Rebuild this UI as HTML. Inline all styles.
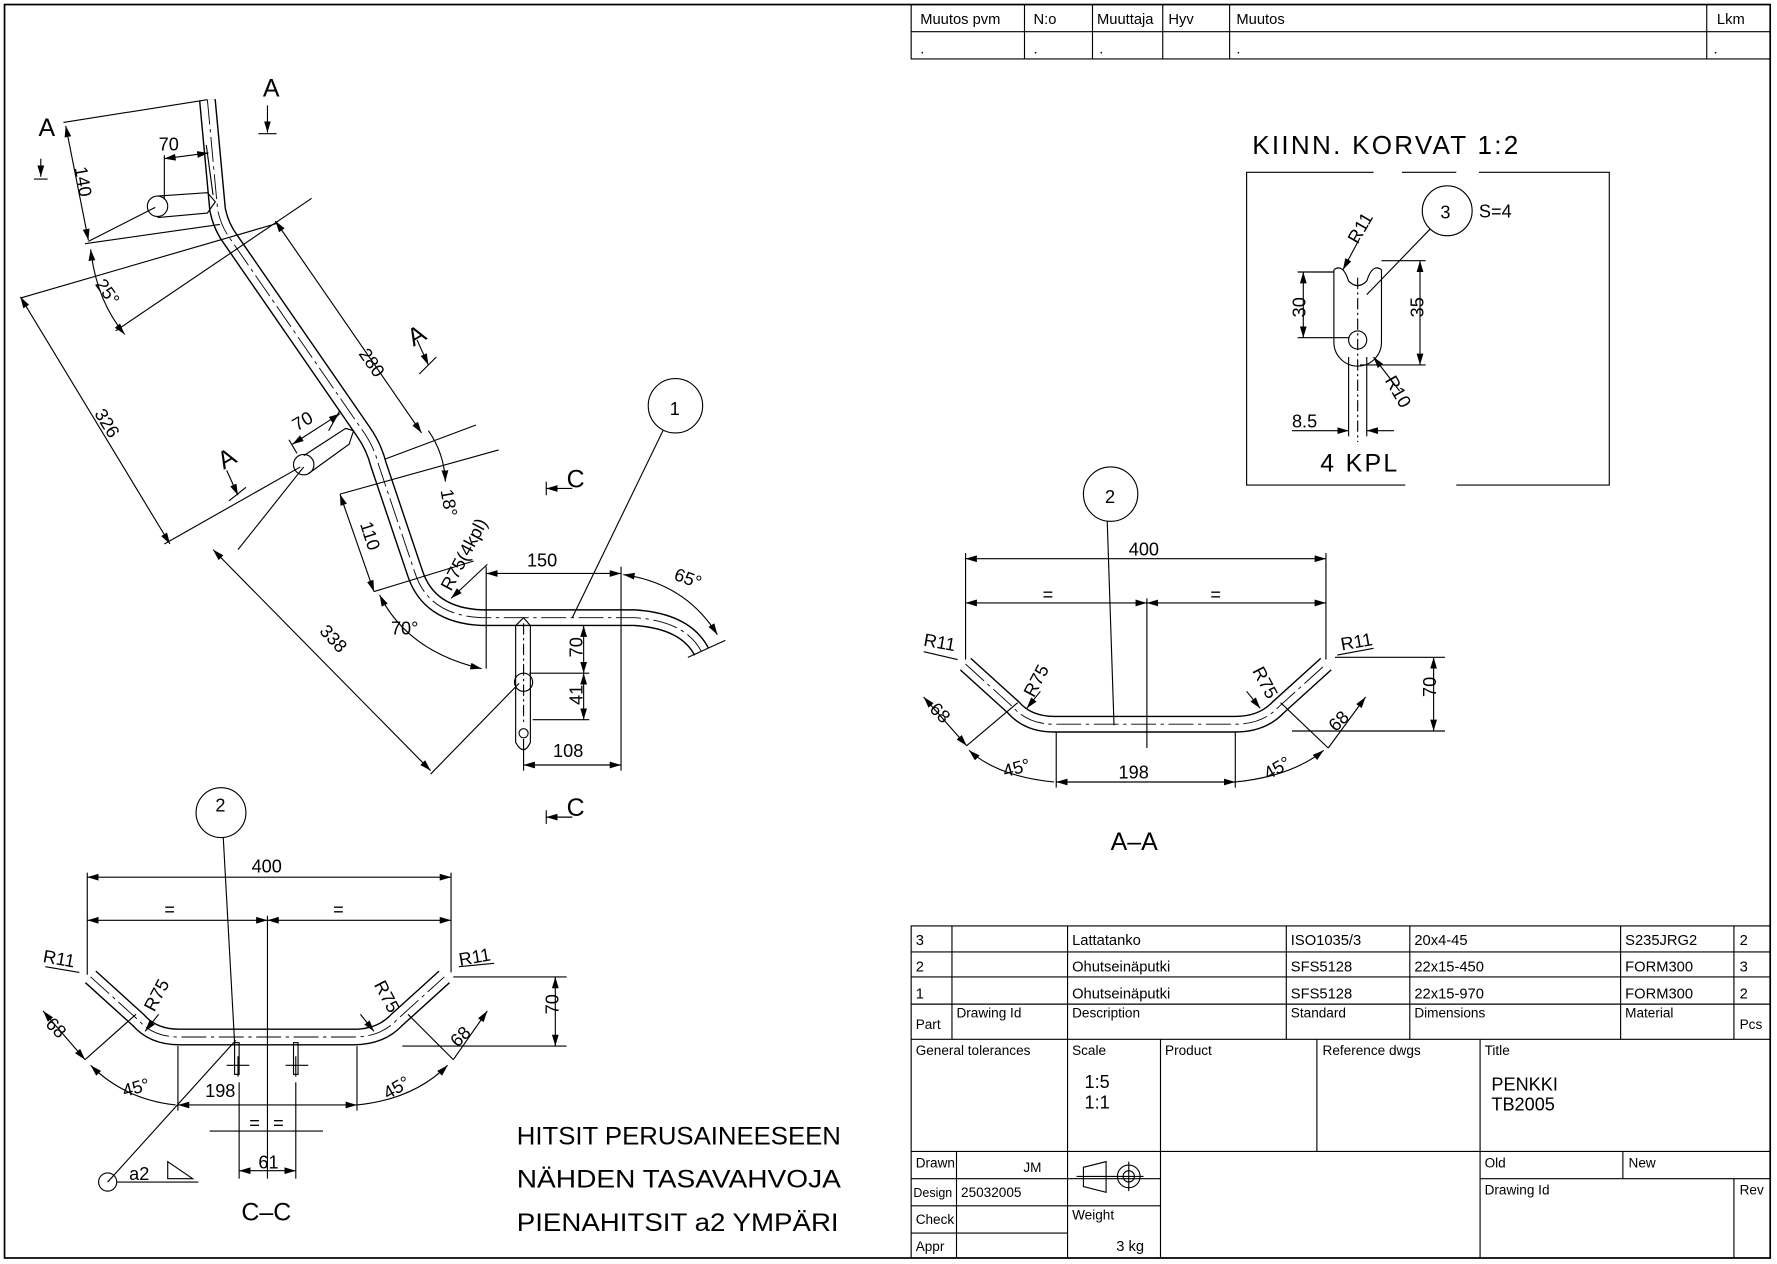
<!DOCTYPE html>
<html><head><meta charset="utf-8"><style>
html,body{margin:0;padding:0;background:#fff}
svg{display:block}
text{font-family:"Liberation Sans Narrow","Liberation Sans",sans-serif;fill:#000}
.t{font-size:13px}
.d{font-size:16px}
.b{font-size:22px}
</style></head><body>
<svg width="1777" height="1264" viewBox="0 0 1568 1115.3" preserveAspectRatio="none" xmlns="http://www.w3.org/2000/svg">
<defs>
<marker id="a" viewBox="0 0 10 6" refX="10" refY="3" markerWidth="10" markerHeight="6" orient="auto-start-reverse" markerUnits="userSpaceOnUse"><path d="M0,0L10,3L0,6z" fill="#000"/></marker>
</defs>
<rect x="4" y="4" width="1558" height="1106" fill="none" stroke="#000" stroke-width="1.5"/>

<!-- revision table -->
<g fill="none" stroke="#000" stroke-width="1">
<rect x="804" y="4" width="758" height="48"/>
<line x1="804" y1="28" x2="1562" y2="28"/>
<line x1="904" y1="4" x2="904" y2="52"/><line x1="964" y1="4" x2="964" y2="52"/><line x1="1026" y1="4" x2="1026" y2="52"/><line x1="1085" y1="4" x2="1085" y2="52"/><line x1="1506" y1="4" x2="1506" y2="52"/>
</g>
<g class="t"><text x="812" y="21">Muutos  pvm</text><text x="912" y="21">N:o</text><text x="968" y="21">Muuttaja</text><text x="1031" y="21">Hyv</text><text x="1091" y="21">Muutos</text><text x="1515" y="21">Lkm</text>
<text x="812" y="47">.</text><text x="912" y="47">.</text><text x="970" y="47">.</text><text x="1091" y="47">.</text><text x="1512" y="47">.</text></g>

<!-- title block -->
<g fill="none" stroke="#000" stroke-width="1">
<rect x="804" y="817" width="758" height="293"/>
<line x1="804" y1="840" x2="1562" y2="840"/><line x1="804" y1="862" x2="1562" y2="862"/><line x1="804" y1="886" x2="1562" y2="886"/><line x1="804" y1="917" x2="1562" y2="917"/>
<line x1="840" y1="817" x2="840" y2="917"/><line x1="942" y1="817" x2="942" y2="1110"/><line x1="1135" y1="817" x2="1135" y2="917"/><line x1="1244" y1="817" x2="1244" y2="917"/><line x1="1430" y1="817" x2="1430" y2="917"/><line x1="1530" y1="817" x2="1530" y2="917"/>
<line x1="1024" y1="917" x2="1024" y2="1110"/><line x1="1162" y1="917" x2="1162" y2="1016"/><line x1="1306" y1="917" x2="1306" y2="1110"/>
<line x1="804" y1="1016" x2="1562" y2="1016"/><line x1="804" y1="1040" x2="1024" y2="1040"/><line x1="1306" y1="1040" x2="1562" y2="1040"/>
<line x1="804" y1="1064" x2="1024" y2="1064"/><line x1="804" y1="1088" x2="942" y2="1088"/>
<line x1="844" y1="1016" x2="844" y2="1110"/><line x1="1432" y1="1016" x2="1432" y2="1040"/><line x1="1530" y1="1040" x2="1530" y2="1110"/>
</g>
<g class="t">
<text x="808" y="834">3</text><text x="946" y="834">Lattatanko</text><text x="1139" y="834">ISO1035/3</text><text x="1248" y="834">20x4-45</text><text x="1434" y="834">S235JRG2</text><text x="1535" y="834">2</text>
<text x="808" y="857">2</text><text x="946" y="857">Ohutseinäputki</text><text x="1139" y="857">SFS5128</text><text x="1248" y="857">22x15-450</text><text x="1434" y="857">FORM300</text><text x="1535" y="857">3</text>
<text x="808" y="881">1</text><text x="946" y="881">Ohutseinäputki</text><text x="1139" y="881">SFS5128</text><text x="1248" y="881">22x15-970</text><text x="1434" y="881">FORM300</text><text x="1535" y="881">2</text>
<text x="808" y="908" font-size="12">Part</text><text x="844" y="898" font-size="12">Drawing Id</text><text x="946" y="898" font-size="12">Description</text><text x="1139" y="898" font-size="12">Standard</text><text x="1248" y="898" font-size="12">Dimensions</text><text x="1434" y="898" font-size="12">Material</text><text x="1535" y="908" font-size="12">Pcs</text>
<text x="808" y="931" font-size="12">General tolerances</text><text x="946" y="931" font-size="12">Scale</text><text x="1028" y="931" font-size="12">Product</text><text x="1167" y="931" font-size="12">Reference dwgs</text><text x="1310" y="931" font-size="12">Title</text>
<text x="957" y="960" font-size="16">1:5</text><text x="957" y="978" font-size="16">1:1</text>
<text x="1316" y="962" font-size="16">PENKKI</text><text x="1316" y="980" font-size="16">TB2005</text>
<text x="808" y="1030" font-size="12">Drawn</text><text x="903" y="1034" font-size="12">JM</text><text x="1310" y="1030" font-size="12">Old</text><text x="1437" y="1030" font-size="12">New</text>
<text x="806" y="1056" font-size="11">Design</text><text x="848" y="1056" font-size="12">25032005</text><text x="1310" y="1054" font-size="12">Drawing Id</text><text x="1535" y="1054" font-size="12">Rev</text>
<text x="808" y="1080" font-size="12">Check</text><text x="946" y="1076" font-size="12">Weight</text>
<text x="808" y="1104" font-size="12">Appr</text><text x="985" y="1104" font-size="13">3  kg</text>
</g>
<g fill="none" stroke="#000" stroke-width="1">
<path d="M956,1030 L976,1025 L976,1052 L956,1047 Z M950,1038 L983,1038"/>
<circle cx="996" cy="1038" r="10"/><circle cx="996" cy="1038" r="5"/><line x1="983" y1="1038" x2="1009" y2="1038"/><line x1="996" y1="1025" x2="996" y2="1051"/>
</g>

<!-- tubes -->
<g fill="none" stroke-linejoin="round" stroke-linecap="butt">
<path d="M183,88 L192,185 Q195,200 204,212 L320,380 Q330,394 334,410 L366,505 Q378,543 425,545 L560,545 Q605,548 619,575" stroke="#000" stroke-width="15"/>
<path d="M183,88 L192,185 Q195,200 204,212 L320,380 Q330,394 334,410 L366,505 Q378,543 425,545 L560,545 Q605,548 619,575" stroke="#fff" stroke-width="12.5"/>
<path d="M183,88 L192,185 Q195,200 204,212 L320,380 Q330,394 334,410 L366,505 Q378,543 425,545 L560,545 Q605,548 619,575" stroke="#000" stroke-width="0.8" stroke-dasharray="22,4,3,4"/>
<path d="M80,862 L122,900 Q135,915 158,915 L312,915 Q336,915 350,900 L392,862" stroke="#000" stroke-width="15"/>
<path d="M80,862 L122,900 Q135,915 158,915 L312,915 Q336,915 350,900 L392,862" stroke="#fff" stroke-width="12.5"/>
<path d="M80,862 L122,900 Q135,915 158,915 L312,915 Q336,915 350,900 L392,862" stroke="#000" stroke-width="0.8" stroke-dasharray="22,4,3,4"/>
<path d="M852,586 L894,624 Q907,639 930,639 L1090,639 Q1114,639 1128,624 L1170,586" stroke="#000" stroke-width="15"/>
<path d="M852,586 L894,624 Q907,639 930,639 L1090,639 Q1114,639 1128,624 L1170,586" stroke="#fff" stroke-width="12.5"/>
<path d="M852,586 L894,624 Q907,639 930,639 L1090,639 Q1114,639 1128,624 L1170,586" stroke="#000" stroke-width="0.8" stroke-dasharray="22,4,3,4"/>
</g>

<!-- top-left view details -->
<g fill="none" stroke="#000" stroke-width="1">
<line x1="56" y1="108" x2="183" y2="88"/>
<line x1="75" y1="215" x2="194" y2="198"/>
<path d="M139,173 L183,170 L190,178 L183,188 L139,192"/><circle cx="139" cy="182" r="9"/>
<line x1="145" y1="137" x2="145" y2="176"/><line x1="182" y1="128" x2="188" y2="172"/>
<line x1="145" y1="140" x2="184" y2="135" marker-start="url(#a)" marker-end="url(#a)"/>
<path d="M268,402 L305,378 L312,380 L308,392 L272,418"/><circle cx="268" cy="410" r="9"/>
<line x1="290" y1="380" x2="300" y2="362"/><line x1="262" y1="400" x2="255" y2="388"/>
<line x1="258" y1="392" x2="300" y2="365" marker-start="url(#a)" marker-end="url(#a)"/>
<line x1="58" y1="111" x2="78" y2="212" marker-start="url(#a)" marker-end="url(#a)"/>
<line x1="18" y1="263" x2="245" y2="197"/>
<line x1="18" y1="262" x2="150" y2="480" marker-start="url(#a)" marker-end="url(#a)"/>
<line x1="145" y1="480" x2="265" y2="412"/>
<line x1="102" y1="292" x2="275" y2="175"/>
<path d="M80,220 Q85,265 110,295" marker-start="url(#a)" marker-end="url(#a)"/>
<line x1="78" y1="213" x2="137" y2="183"/>
<line x1="243" y1="195" x2="372" y2="382" marker-start="url(#a)" marker-end="url(#a)"/>
<line x1="340" y1="405" x2="420" y2="375"/>
<line x1="300" y1="436" x2="440" y2="397"/>
<path d="M378,380 Q392,400 393,425" marker-end="url(#a)"/>
<line x1="300" y1="436" x2="330" y2="522" marker-start="url(#a)" marker-end="url(#a)"/>
<line x1="330" y1="522" x2="418" y2="495"/>
<line x1="398" y1="528" x2="430" y2="498" marker-start="url(#a)"/>
<path d="M335,525 Q360,575 425,590" marker-start="url(#a)" marker-end="url(#a)"/>
<line x1="188" y1="485" x2="380" y2="680" marker-start="url(#a)" marker-end="url(#a)"/>
<line x1="380" y1="683" x2="458" y2="603"/>
<line x1="210" y1="485" x2="268" y2="412"/>
<line x1="429" y1="500" x2="429" y2="590"/><line x1="548" y1="500" x2="548" y2="560"/>
<line x1="429" y1="506" x2="548" y2="506" marker-start="url(#a)" marker-end="url(#a)"/>
<path d="M550,507 Q605,515 633,560" marker-start="url(#a)" marker-end="url(#a)"/>
<line x1="607" y1="580" x2="640" y2="565"/>
<path d="M455,552 L455,655 Q462,668 468,655 L468,552 L462,545 Z"/>
<circle cx="462" cy="602" r="8"/><circle cx="462" cy="647" r="4"/>
<line x1="462" y1="550" x2="462" y2="640" stroke-dasharray="10,3,2,3"/>
<line x1="467" y1="594" x2="520" y2="594"/><line x1="470" y1="635" x2="520" y2="635"/>
<line x1="515" y1="552" x2="515" y2="594" marker-start="url(#a)" marker-end="url(#a)"/>
<line x1="515" y1="594" x2="515" y2="635" marker-start="url(#a)" marker-end="url(#a)"/>
<line x1="462" y1="652" x2="462" y2="680"/>
<line x1="462" y1="675" x2="548" y2="675" marker-start="url(#a)" marker-end="url(#a)"/>
<line x1="548" y1="560" x2="548" y2="680"/>
<line x1="505" y1="545" x2="585" y2="380"/>
<circle cx="596" cy="358" r="24"/>
<!-- section marks -->
<line x1="30" y1="158" x2="42" y2="158"/><line x1="36" y1="140" x2="36" y2="156" marker-end="url(#a)"/>
<line x1="236" y1="93" x2="236" y2="117" marker-end="url(#a)"/><line x1="228" y1="118" x2="244" y2="118"/>
<line x1="368" y1="300" x2="378" y2="322" marker-end="url(#a)"/><line x1="370" y1="330" x2="385" y2="315"/>
<line x1="200" y1="415" x2="210" y2="437" marker-end="url(#a)"/><line x1="202" y1="442" x2="217" y2="430"/>
<line x1="482" y1="425" x2="482" y2="437"/><line x1="482" y1="431" x2="505" y2="431" marker-start="url(#a)"/>
<line x1="482" y1="715" x2="482" y2="727"/><line x1="482" y1="721" x2="505" y2="721" marker-start="url(#a)"/>
</g>
<g class="d">
<text x="140" y="133">70</text>
<text x="64" y="160" transform="rotate(80 72 155)">140</text>
<text x="85" y="262" transform="rotate(55 95 255)">25°</text>
<text x="80" y="380" transform="rotate(58 95 375)">326</text>
<text x="315" y="322" transform="rotate(55 325 318)">280</text>
<text x="258" y="378" transform="rotate(-30 265 372)">70</text>
<text x="385" y="443" transform="rotate(80 393 440)">18°</text>
<text x="312" y="470" transform="rotate(72 320 470)">110</text>
<text x="390" y="515" transform="rotate(-62 400 512)">R75(4kpl)</text>
<text x="345" y="560">70°</text>
<text x="280" y="570" transform="rotate(47 295 565)">338</text>
<text x="465" y="500">150</text>
<text x="595" y="515" transform="rotate(20 605 510)">65°</text>
<text x="510" y="584" transform="rotate(-90 510 580)">70</text>
<text x="510" y="626" transform="rotate(-90 510 622)">41</text>
<text x="488" y="668">108</text>
<text x="591" y="366">1</text>
</g>
<g class="b"><text x="34" y="120">A</text><text x="232" y="85">A</text><text x="360" y="302" transform="rotate(-30 370 295)">A</text><text x="193" y="412" transform="rotate(-30 200 405)">A</text><text x="500" y="430">C</text><text x="500" y="720">C</text></g>

<!-- C-C view -->
<g fill="none" stroke="#000" stroke-width="1">
<circle cx="195" cy="717" r="22"/><line x1="197" y1="739" x2="207" y2="920"/>
<line x1="77" y1="770" x2="77" y2="860"/><line x1="398" y1="770" x2="398" y2="858"/>
<line x1="77" y1="774" x2="398" y2="774" marker-start="url(#a)" marker-end="url(#a)"/>
<line x1="77" y1="812" x2="236" y2="812" marker-start="url(#a)" marker-end="url(#a)"/>
<line x1="236" y1="812" x2="398" y2="812" marker-start="url(#a)" marker-end="url(#a)"/>
<line x1="236" y1="808" x2="236" y2="1040"/>
<line x1="40" y1="853" x2="70" y2="858"/><line x1="405" y1="853" x2="436" y2="850"/>
<line x1="400" y1="862" x2="500" y2="862"/><line x1="355" y1="923" x2="500" y2="923"/>
<line x1="490" y1="862" x2="490" y2="923" marker-start="url(#a)" marker-end="url(#a)"/>
<line x1="38" y1="892" x2="75" y2="935" marker-start="url(#a)" marker-end="url(#a)"/>
<line x1="75" y1="935" x2="120" y2="895"/>
<line x1="360" y1="895" x2="400" y2="935"/><line x1="430" y1="892" x2="400" y2="935" marker-start="url(#a)"/>
<path d="M80,940 Q110,970 155,975" marker-start="url(#a)"/>
<line x1="157" y1="923" x2="157" y2="980"/><line x1="315" y1="923" x2="315" y2="980"/>
<line x1="157" y1="975" x2="315" y2="975" marker-start="url(#a)" marker-end="url(#a)"/>
<path d="M315,975 Q365,970 395,940" marker-end="url(#a)"/>
<line x1="140" y1="895" x2="128" y2="910" marker-end="url(#a)"/><line x1="318" y1="895" x2="330" y2="910" marker-end="url(#a)"/>
<rect x="207" y="920" width="4" height="28"/><rect x="259" y="920" width="4" height="28"/>
<line x1="200" y1="940" x2="220" y2="940"/><line x1="210" y1="932" x2="210" y2="950"/>
<line x1="252" y1="940" x2="272" y2="940"/><line x1="261" y1="932" x2="261" y2="950"/>
<line x1="211" y1="955" x2="211" y2="1040"/><line x1="261" y1="955" x2="261" y2="1040"/>
<line x1="185" y1="998" x2="285" y2="998"/>
<line x1="211" y1="1033" x2="261" y2="1033" marker-start="url(#a)" marker-end="url(#a)"/>
<line x1="95" y1="1043" x2="208" y2="918"/><circle cx="95" cy="1043" r="8"/>
<line x1="103" y1="1043" x2="175" y2="1043"/>
<path d="M148,1040 L148,1025 L170,1040 Z"/>
</g>
<g class="d">
<text x="222" y="770">400</text><text x="145" y="808">=</text><text x="294" y="808">=</text>
<text x="38" y="851" transform="rotate(10 50 846)">R11</text><text x="405" y="850" transform="rotate(-10 418 846)">R11</text>
<text x="128" y="890" transform="rotate(-62 135 885)">R75</text><text x="320" y="875" transform="rotate(62 330 880)">R75</text>
<text x="488" y="900" transform="rotate(-90 488 895)">70</text>
<text x="40" y="913" transform="rotate(45 50 908)">68</text><text x="396" y="918" transform="rotate(-45 408 912)">68</text>
<text x="108" y="965" transform="rotate(-15 120 960)">45°</text><text x="338" y="965" transform="rotate(-30 350 960)">45°</text>
<text x="181" y="968">198</text><text x="220" y="996">=</text><text x="241" y="996">=</text><text x="228" y="1031">61</text>
<text x="190" y="716">2</text><text x="114" y="1041">a2</text>
</g>
<text x="213" y="1077" class="b">C–C</text>
<g style="font-size:22px"><text x="456" y="1010" textLength="286" lengthAdjust="spacingAndGlyphs">HITSIT PERUSAINEESEEN</text><text x="456" y="1048" textLength="286" lengthAdjust="spacingAndGlyphs">NÄHDEN TASAVAHVOJA</text><text x="456" y="1086" textLength="284" lengthAdjust="spacingAndGlyphs">PIENAHITSIT a2 YMPÄRI</text></g>

<!-- A-A view -->
<g fill="none" stroke="#000" stroke-width="1">
<circle cx="980" cy="436" r="24"/><line x1="977" y1="460" x2="983" y2="640"/>
<line x1="852" y1="488" x2="852" y2="582"/><line x1="1170" y1="488" x2="1170" y2="582"/>
<line x1="852" y1="493" x2="1170" y2="493" marker-start="url(#a)" marker-end="url(#a)"/>
<line x1="852" y1="532" x2="1012" y2="532" marker-start="url(#a)" marker-end="url(#a)"/>
<line x1="1012" y1="532" x2="1170" y2="532" marker-start="url(#a)" marker-end="url(#a)"/>
<line x1="1012" y1="528" x2="1012" y2="660"/>
<line x1="815" y1="575" x2="845" y2="582"/><line x1="1180" y1="578" x2="1212" y2="572"/>
<line x1="1178" y1="580" x2="1275" y2="580"/><line x1="1140" y1="645" x2="1275" y2="645"/>
<line x1="1265" y1="580" x2="1265" y2="645" marker-start="url(#a)" marker-end="url(#a)"/>
<line x1="815" y1="615" x2="853" y2="658" marker-start="url(#a)" marker-end="url(#a)"/>
<line x1="853" y1="658" x2="898" y2="620"/>
<line x1="1130" y1="620" x2="1172" y2="660"/><line x1="1205" y1="615" x2="1172" y2="660" marker-start="url(#a)"/>
<path d="M855,662 Q880,685 930,690" marker-start="url(#a)"/>
<line x1="932" y1="646" x2="932" y2="695"/><line x1="1090" y1="646" x2="1090" y2="695"/>
<line x1="932" y1="690" x2="1090" y2="690" marker-start="url(#a)" marker-end="url(#a)"/>
<path d="M1090,690 Q1140,685 1168,662" marker-end="url(#a)"/>
<line x1="918" y1="610" x2="906" y2="625" marker-end="url(#a)"/><line x1="1100" y1="610" x2="1112" y2="625" marker-end="url(#a)"/>
</g>
<g class="d">
<text x="996" y="490">400</text><text x="920" y="530">=</text><text x="1068" y="530">=</text>
<text x="815" y="572" transform="rotate(10 828 567)">R11</text><text x="1183" y="572" transform="rotate(-10 1195 567)">R11</text>
<text x="905" y="612" transform="rotate(-62 912 608)">R75</text><text x="1095" y="598" transform="rotate(62 1105 603)">R75</text>
<text x="1262" y="620" transform="rotate(-90 1262 615)">70</text>
<text x="820" y="635" transform="rotate(45 830 630)">68</text><text x="1172" y="640" transform="rotate(-45 1183 635)">68</text>
<text x="885" y="683" transform="rotate(-15 897 678)">45°</text><text x="1115" y="683" transform="rotate(-30 1127 678)">45°</text>
<text x="987" y="687">198</text><text x="975" y="444">2</text>
</g>
<text x="980" y="750" class="b">A–A</text>

<!-- Kiinn korvat -->
<text x="1105" y="136" style="font-size:23px;letter-spacing:2px">KIINN. KORVAT 1:2</text>
<g fill="none" stroke="#000" stroke-width="1">
<path d="M1212,152 L1100,152 L1100,428 L1240,428 M1285,428 L1420,428 L1420,152 L1305,152 M1237,152 L1285,152"/>
<path d="M1177,238 L1177,302 A21,21 0 0 0 1219,302 L1219,238 M1177,238 Q1185,232 1190,248 Q1198,256 1206,248 Q1211,232 1219,238"/>
<circle cx="1198" cy="300" r="8"/>
<line x1="1198" y1="245" x2="1198" y2="390" stroke-dasharray="10,3,2,3"/>
<circle cx="1277" cy="186" r="22"/><line x1="1262" y1="202" x2="1206" y2="260"/>
<line x1="1145" y1="240" x2="1177" y2="240"/><line x1="1145" y1="298" x2="1190" y2="298"/>
<line x1="1150" y1="240" x2="1150" y2="298" marker-start="url(#a)" marker-end="url(#a)"/>
<line x1="1219" y1="230" x2="1258" y2="230"/><line x1="1200" y1="322" x2="1258" y2="322"/>
<line x1="1253" y1="230" x2="1253" y2="322" marker-start="url(#a)" marker-end="url(#a)"/>
<line x1="1200" y1="210" x2="1185" y2="238" marker-end="url(#a)"/>
<line x1="1235" y1="345" x2="1212" y2="315" marker-end="url(#a)"/>
<line x1="1190" y1="315" x2="1190" y2="385"/><line x1="1206" y1="315" x2="1206" y2="385"/>
<line x1="1140" y1="380" x2="1190" y2="380" marker-end="url(#a)"/><line x1="1230" y1="380" x2="1206" y2="380" marker-end="url(#a)"/>
</g>
<g class="d">
<text x="1271" y="193">3</text><text x="1305" y="192">S=4</text>
<text x="1187" y="213" transform="rotate(-60 1195 205)">R11</text>
<text x="1144" y="288" transform="rotate(-90 1144 280)">30</text>
<text x="1251" y="285" transform="rotate(-90 1251 280)">35</text>
<text x="1222" y="345" transform="rotate(60 1230 340)">R10</text>
<text x="1140" y="377">8.5</text>
</g>
<text x="1165" y="416" style="font-size:22px;letter-spacing:2px">4 KPL</text>
</svg>
</body></html>
